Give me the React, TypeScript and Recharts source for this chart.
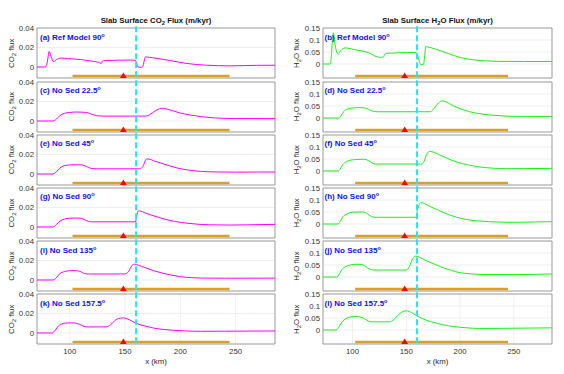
import React from 'react'
import {
  ComposedChart,
  Line,
  Scatter,
  XAxis,
  YAxis,
  CartesianGrid,
  ReferenceLine,
  ReferenceArea,
} from 'recharts'

type Pt = [number, number]

// axes
const xTicks = [100, 150, 200, 250]
const co2Ticks = [0, 0.02, 0.04]
const h2oTicks = [0, 0.05, 0.1, 0.15]
const co2Domain: [number, number] = [-0.0113, 0.04]
const h2oDomain: [number, number] = [-0.0583, 0.15]
const co2XDomain: [number, number] = [70.4, 285.6]
const h2oXDomain: [number, number] = [72.6, 285.4]

// markers shared by every panel
const trenchX = 160
const arcX = 148.5
const barStart = 102.5
const barEnd = 244.5
const co2BarY = -0.0093
const h2oBarY = -0.05

const panelNames = ['Ref Model 90', 'No Sed 22.5', 'No Sed 45', 'No Sed 90', 'No Sed 135', 'No Sed 157.5']
const co2Letters = ['a', 'c', 'e', 'g', 'i', 'k']
const h2oLetters = ['b', 'd', 'f', 'h', 'j', 'l']

// CO2 flux curves (m/kyr)
const co2Ref: Pt[] = [
  [70.4, 0], [78, 0], [79.5, 0.004], [81.5, 0.016], [83, 0.011], [85.5, 0.0055], [88, 0.0075],
  [92, 0.0092], [98, 0.0086], [110, 0.0076], [120, 0.006], [126, 0.0048], [128.5, 0.0037],
  [129.5, 0.006], [132, 0.0066], [155, 0.0071], [159, 0.007], [160.5, 0.004], [161.5, 0.0002],
  [165, -0.0003], [166, 0.0004], [168.5, 0.0104], [172, 0.0099], [178, 0.009], [190, 0.0068],
  [206, 0.0036], [224, 0.0018], [245, 0.0012], [269, 0.0017], [285.6, 0.0018],
]
const co2Sed22: Pt[] = [
  [70.4, 0], [85, 0], [88, 0.002], [91, 0.0055], [95, 0.0078], [100, 0.0088], [106, 0.0092],
  [112, 0.009], [117, 0.0082], [121, 0.0065], [125, 0.0053], [130, 0.005], [168, 0.005],
  [171, 0.0057], [175, 0.0085], [179, 0.0115], [183, 0.013], [187, 0.0125], [193, 0.0105],
  [200, 0.0082], [208, 0.0063], [218, 0.0046], [232, 0.0031], [250, 0.0025], [285.6, 0.0024],
]
const co2Sed45: Pt[] = [
  [70.4, 0], [85, 0], [88, 0.0025], [91, 0.006], [95, 0.0085], [100, 0.0093], [106, 0.0095],
  [111, 0.0094], [115, 0.0078], [118.5, 0.006], [122, 0.0054], [125, 0.0053], [163.5, 0.0053],
  [166, 0.0075], [169.5, 0.0155], [172, 0.0153], [176, 0.0135], [182, 0.0113], [190, 0.0085],
  [197, 0.0062], [207, 0.0041], [218, 0.0027], [232, 0.0021], [250, 0.0019], [270, 0.002],
  [285.6, 0.002],
]
const co2Sed90: Pt[] = [
  [70.4, 0], [85, 0], [88, 0.0025], [91, 0.006], [95, 0.008], [100, 0.009], [105, 0.0092],
  [110, 0.009], [114, 0.0072], [117, 0.0057], [120, 0.0053], [159.5, 0.0053], [160.5, 0.011],
  [162, 0.0165], [164, 0.0163], [168, 0.0145], [173, 0.0125], [180, 0.01], [188, 0.0074],
  [196, 0.0055], [206, 0.0039], [216, 0.0028], [227, 0.0022], [245, 0.002], [260, 0.0022],
  [285.6, 0.0027],
]
const co2Sed135: Pt[] = [
  [70.4, 0], [85, 0], [88, 0.0025], [91, 0.0065], [95, 0.0085], [100, 0.0095], [106, 0.0096],
  [110, 0.0085], [113, 0.0068], [116, 0.0062], [120, 0.0061], [150, 0.0062], [153, 0.0085],
  [156, 0.0145], [158.5, 0.0162], [162, 0.0152], [168, 0.0127], [176, 0.0095], [184, 0.007],
  [192, 0.005], [200, 0.0034], [210, 0.0024], [218, 0.002], [240, 0.0018], [285.6, 0.0019],
]
const co2Sed157: Pt[] = [
  [70.4, 0], [84, 0], [87, 0.003], [90, 0.0075], [94, 0.0097], [98, 0.0103], [104, 0.0103],
  [109, 0.0088], [113, 0.0068], [117, 0.0062], [133, 0.0063], [137, 0.0085], [142, 0.0138],
  [146, 0.0153], [148.5, 0.0155], [152, 0.0145], [157, 0.0118], [161, 0.0095], [168, 0.0072],
  [176, 0.005], [185, 0.0036], [194, 0.0027], [205, 0.0021], [218, 0.0017], [240, 0.0018],
  [285.6, 0.0021],
]

// H2O flux curves (m/kyr)
const h2oRef: Pt[] = [
  [72.6, 0], [79, 0], [80.5, 0.04], [81.5, 0.11], [82.3, 0.13], [83.5, 0.09], [85, 0.055],
  [86.7, 0.042], [89, 0.055], [93, 0.067], [98, 0.064], [103, 0.059], [110, 0.053], [115, 0.047],
  [119, 0.038], [122, 0.031], [126, 0.028], [128.6, 0.0285], [130.2, 0.042], [133, 0.045],
  [140, 0.046], [150, 0.048], [158, 0.048], [159.8, 0.045], [161, 0.03], [163.3, -0.002],
  [166, -0.001], [167, 0.03], [168, 0.072], [172, 0.069], [177, 0.062], [183, 0.053], [190, 0.042],
  [198, 0.03], [206, 0.022], [214, 0.0165], [224, 0.013], [236, 0.011], [260, 0.0105],
  [285.4, 0.0105],
]
const h2oSed22: Pt[] = [
  [72.6, 0], [87.5, 0], [89.5, 0.01], [92, 0.028], [95, 0.037], [99, 0.041], [104, 0.043],
  [109, 0.043], [113, 0.04], [116, 0.034], [119.5, 0.028], [124, 0.026], [172, 0.026],
  [175, 0.035], [179, 0.058], [183, 0.071], [186, 0.069], [190, 0.06], [194, 0.05], [200, 0.039],
  [209, 0.026], [218, 0.018], [228, 0.0125], [240, 0.0085], [250, 0.007], [285.4, 0.0065],
]
const h2oSed45: Pt[] = [
  [72.6, 0], [86.5, 0], [88.5, 0.008], [91, 0.027], [94, 0.038], [98, 0.045], [104, 0.048],
  [110, 0.049], [113, 0.047], [116, 0.04], [119, 0.032], [122, 0.029], [164, 0.029],
  [166.5, 0.04], [169, 0.07], [171.5, 0.082], [175, 0.079], [181, 0.067], [188, 0.053],
  [197, 0.037], [207, 0.026], [218, 0.017], [230, 0.012], [243, 0.0097], [260, 0.01],
  [285.4, 0.011],
]
const h2oSed90: Pt[] = [
  [72.6, 0], [86.5, 0], [88.5, 0.01], [91, 0.03], [95, 0.042], [100, 0.049], [105, 0.05],
  [110, 0.05], [113, 0.045], [116, 0.035], [119, 0.029], [122, 0.028], [159, 0.028],
  [160.5, 0.06], [162, 0.08], [163.7, 0.089], [167, 0.085], [173, 0.071], [180, 0.057],
  [189, 0.04], [197, 0.028], [205, 0.0195], [215, 0.0135], [226, 0.0097], [240, 0.0075],
  [251, 0.007], [270, 0.0085], [285.4, 0.0097],
]
const h2oSed135: Pt[] = [
  [72.6, 0], [85.5, 0], [87.5, 0.01], [90, 0.03], [93, 0.042], [98, 0.05], [103, 0.053],
  [107, 0.053], [111, 0.048], [114, 0.038], [117, 0.031], [120, 0.029], [150, 0.029],
  [153, 0.045], [156, 0.077], [158.5, 0.087], [162, 0.083], [169, 0.067], [177, 0.052],
  [184, 0.039], [192, 0.027], [200, 0.018], [210, 0.013], [220, 0.0105], [250, 0.01],
  [285.4, 0.0125],
]
const h2oSed157: Pt[] = [
  [72.6, 0], [85, 0], [87, 0.01], [90, 0.032], [94, 0.048], [98, 0.054], [103, 0.056],
  [108, 0.053], [112, 0.045], [115, 0.037], [118, 0.034], [134.5, 0.034], [138, 0.042],
  [142, 0.06], [146, 0.075], [150, 0.08], [153, 0.077], [157, 0.067], [162, 0.054], [169, 0.04],
  [176, 0.031], [185, 0.021], [194, 0.0145], [205, 0.0095], [218, 0.0065], [240, 0.007],
  [285.4, 0.009],
]

const co2Series = [co2Ref, co2Sed22, co2Sed45, co2Sed90, co2Sed135, co2Sed157]
const h2oSeries = [h2oRef, h2oSed22, h2oSed45, h2oSed90, h2oSed135, h2oSed157]

// layout
const panelTops = [28.3, 81.5, 134.7, 187.9, 241.1, 294.3]
const plotH = 50
const yAxisW = 37
const co2Left = 37
const co2W = 238
const h2oLeft = 323
const h2oW = 229
const font = '"Liberation Sans", Arial, Helvetica, sans-serif'
const tickStyle = { fontSize: 7.8, fill: '#333' }

const toData = (pts: Pt[]) => pts.map(([x, y]) => ({ x, y }))

const Triangle = (p: any) => (
  <polygon
    points={`${p.cx},${p.cy - 3.6} ${p.cx - 3.6},${p.cy + 2.4} ${p.cx + 3.6},${p.cy + 2.4}`}
    fill="#ff0000"
  />
)

interface PanelProps {
  pts: Pt[]
  left: number
  top: number
  plotW: number
  xDomain: [number, number]
  yDomain: [number, number]
  yTicks: number[]
  barY: number
  color: string
  showX: boolean
}

function Panel({ pts, left, top, plotW, xDomain, yDomain, yTicks, barY, color, showX }: PanelProps) {
  const mt = 6
  const mr = 4
  const xh = showX ? 20 : 0
  // let the dashed trench line run through the small gaps between panels
  const ext = (yDomain[1] - yDomain[0]) * 0.035
  return (
    <div style={{ position: 'absolute', left: left - yAxisW, top: top - mt }}>
      <ComposedChart
        width={yAxisW + plotW + mr}
        height={mt + plotH + xh + 2}
        margin={{ top: mt, right: mr, bottom: 2, left: 0 }}
      >
        <CartesianGrid stroke="#ebebeb" strokeWidth={0.8} />
        <XAxis
          type="number"
          dataKey="x"
          domain={xDomain}
          allowDataOverflow
          ticks={xTicks}
          interval={0}
          height={xh}
          tick={showX ? tickStyle : false}
          axisLine={false}
          tickLine={false}
          tickSize={0}
          tickMargin={4}
        />
        <YAxis
          type="number"
          dataKey="y"
          domain={yDomain}
          allowDataOverflow
          ticks={yTicks}
          interval={0}
          width={yAxisW}
          tick={tickStyle}
          axisLine={false}
          tickLine={false}
          tickSize={0}
          tickMargin={3}
        />
        <ReferenceArea
          x1={xDomain[0]}
          x2={xDomain[1]}
          y1={yDomain[0]}
          y2={yDomain[1]}
          fill="none"
          stroke="#8a8a8a"
          strokeWidth={0.8}
        />
        <Line
          data={toData(pts)}
          dataKey="y"
          type="monotone"
          stroke={color}
          strokeWidth={1}
          dot={false}
          isAnimationActive={false}
        />
        <ReferenceLine
          segment={[{ x: barStart, y: barY }, { x: barEnd, y: barY }]}
          stroke="#dba124"
          strokeWidth={2.5}
        />
        <ReferenceLine
          segment={[
            { x: trenchX, y: yDomain[1] + ext },
            { x: trenchX, y: yDomain[0] - ext },
          ]}
          ifOverflow="visible"
          stroke="#22e6f2"
          strokeWidth={2}
          strokeDasharray="6 3"
        />
        <Scatter data={[{ x: arcX, y: barY }]} shape={Triangle} isAnimationActive={false} />
      </ComposedChart>
    </div>
  )
}

function Sub({ base, sub, rest }: { base: string; sub: string; rest: string }) {
  return (
    <>
      {base}
      <tspan dy={2} fontSize="0.75em">{sub}</tspan>
      <tspan dy={-2}>{rest}</tspan>
    </>
  )
}

export default function App() {
  const co2Mid = co2Left + co2W / 2
  const h2oMid = h2oLeft + h2oW / 2
  return (
    <div
      style={{
        position: 'absolute',
        left: 0,
        top: 0,
        width: 564,
        height: 374,
        background: '#fff',
        fontFamily: font,
      }}
    >
      {co2Series.map((pts, i) => (
        <Panel
          key={'c' + i}
          pts={pts}
          left={co2Left}
          top={panelTops[i]}
          plotW={co2W}
          xDomain={co2XDomain}
          yDomain={co2Domain}
          yTicks={co2Ticks}
          barY={co2BarY}
          color="#ff00ff"
          showX={i === 5}
        />
      ))}
      {h2oSeries.map((pts, i) => (
        <Panel
          key={'h' + i}
          pts={pts}
          left={h2oLeft}
          top={panelTops[i]}
          plotW={h2oW}
          xDomain={h2oXDomain}
          yDomain={h2oDomain}
          yTicks={h2oTicks}
          barY={h2oBarY}
          color="#1aee1a"
          showX={i === 5}
        />
      ))}
      <svg
        width={564}
        height={374}
        style={{ position: 'absolute', left: 0, top: 0, pointerEvents: 'none', fontFamily: font }}
      >
        <text x={co2Mid} y={23} textAnchor="middle" fontSize={7.8} fontWeight="bold" fill="#111">
          <Sub base="Slab Surface CO" sub="2" rest=" Flux (m/kyr)" />
        </text>
        <text x={h2oMid} y={23} textAnchor="middle" fontSize={7.8} fontWeight="bold" fill="#111">
          <Sub base="Slab Surface H" sub="2" rest="O Flux (m/kyr)" />
        </text>
        {panelTops.map((t, i) => (
          <g key={'lab' + i}>
            <text
              transform={`translate(14,${t + plotH / 2}) rotate(-90)`}
              textAnchor="middle"
              fontSize={7.8}
              fill="#262626"
            >
              <Sub base="CO" sub="2" rest=" flux" />
            </text>
            <text
              transform={`translate(299,${t + plotH / 2}) rotate(-90)`}
              textAnchor="middle"
              fontSize={7.8}
              fill="#262626"
            >
              <Sub base="H" sub="2" rest="O flux" />
            </text>
            <text x={co2Left + 3} y={t + 11.5} fontSize={8} fontWeight="bold" fill="#1010ee">
              {`(${co2Letters[i]}) ${panelNames[i]}`}
              <tspan dy={-3} fontSize={5.5}>o</tspan>
            </text>
            <text x={h2oLeft + 1.5} y={t + 11.5} fontSize={8} fontWeight="bold" fill="#1010ee">
              {`(${h2oLetters[i]}) ${panelNames[i]}`}
              <tspan dy={-3} fontSize={5.5}>o</tspan>
            </text>
          </g>
        ))}
        <text x={co2Mid} y={363.5} textAnchor="middle" fontSize={7.8} fill="#262626">
          x (km)
        </text>
        <text x={h2oMid} y={363.5} textAnchor="middle" fontSize={7.8} fill="#262626">
          x (km)
        </text>
      </svg>
    </div>
  )
}
